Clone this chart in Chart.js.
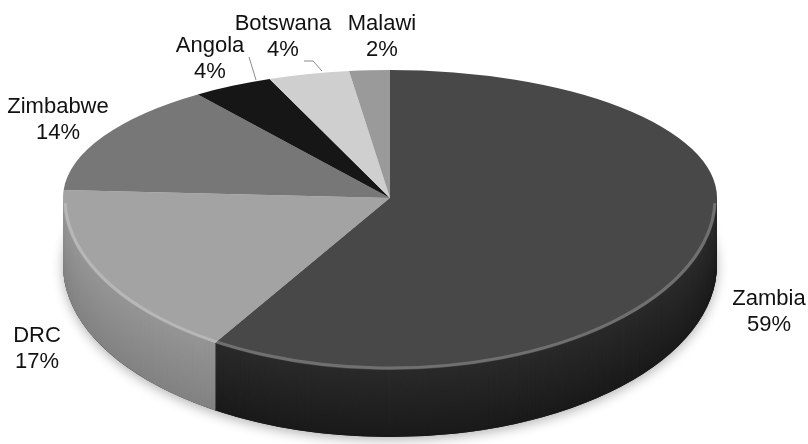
<!DOCTYPE html>
<html>
<head>
<meta charset="utf-8">
<script src="https://cdn.jsdelivr.net/npm/chart.js@4.4.1/dist/chart.umd.min.js"></script>
<style>
  html, body { margin: 0; padding: 0; background: #fff; }
  #wrap { position: relative; width: 808px; height: 444px; }
</style>
</head>
<body>
<div id="wrap"><canvas id="pie"></canvas></div>
<script>
// data
const countries = ['Zambia', 'DRC', 'Zimbabwe', 'Angola', 'Botswana', 'Malawi'];
const shares = [59, 17, 14, 4, 4, 2];

// styles
const topColors = ['#484848', '#a3a3a3', '#777777', '#161616', '#cfcfcf', '#9a9a9a'];
const wallTop = ['#2a2a2a', '#959595', '#666666', '#101010', '#b8b8b8', '#8a8a8a'];
const wallBottom = ['#1a1a1a', '#828282', '#555555', '#0a0a0a', '#a8a8a8', '#7a7a7a'];

// label placement (centre x, first baseline)
const labelPos = [
    { x: 769, y: 305 },
    { x: 37, y: 342 },
    { x: 58, y: 113 },
    { x: 210, y: 52 },
    { x: 283, y: 30 },
    { x: 382, y: 30 }
];

const R = 327;        // horizontal radius
const RY_TOP = 128;   // back half, squashed
const RY_BOT = 172;   // front half
const DEPTH = 67;     // wall thickness

function mix(a, b, t) {
    const pa = [1, 3, 5].map(k => parseInt(a.substr(k, 2), 16));
    const pb = [1, 3, 5].map(k => parseInt(b.substr(k, 2), 16));
    const c = pa.map((v, k) => Math.round(v + (pb[k] - v) * t));
    return `rgb(${c[0]},${c[1]},${c[2]})`;
}

const pie3d = {
    id: 'pie3d',
    beforeDatasetsDraw(chart) {
        const ctx = chart.ctx;
        const meta = chart.getDatasetMeta(0);
        const cx = meta.data[0].x, cy = Math.round(meta.data[0].y);

        // side walls (front half only)
        ctx.save();
        ctx.beginPath();
        ctx.rect(0, cy, chart.width, chart.height - cy);
        ctx.clip();

        // soft shadow under the disc
        ctx.save();
        ctx.shadowColor = 'rgba(0,0,0,0.3)';
        ctx.shadowBlur = 12;
        ctx.shadowOffsetY = 3;
        ctx.fillStyle = '#1a1a1a';
        ctx.beginPath();
        ctx.ellipse(cx, cy + DEPTH, R, RY_BOT, 0, 0, Math.PI * 2);
        ctx.fill();
        ctx.restore();

        for (let d = DEPTH; d >= 0; d--) {
            meta.data.forEach((arc, i) => {
                const p = arc.getProps(['startAngle', 'endAngle', 'outerRadius']);
                ctx.save();
                ctx.translate(cx, cy + d);
                ctx.scale(1, RY_BOT / p.outerRadius);
                ctx.beginPath();
                ctx.moveTo(0, 0);
                ctx.arc(0, 0, p.outerRadius, p.startAngle, p.endAngle);
                ctx.closePath();
                ctx.fillStyle = mix(wallTop[i], wallBottom[i], d / DEPTH);
                ctx.fill();
                ctx.restore();
            });
        }
        ctx.restore();

        // top face: back half and front half with different squash
        [[0, cy, RY_TOP], [cy, chart.height, RY_BOT]].forEach(([y0, y1, ry]) => {
            ctx.save();
            ctx.beginPath();
            ctx.rect(0, y0, chart.width, y1 - y0);
            ctx.clip();
            ctx.translate(cx, cy);
            ctx.scale(1, ry / R);
            ctx.translate(-cx, -cy);
            meta.controller.draw();
            ctx.restore();
        });

        // bevel highlight on the front rim
        ctx.save();
        ctx.beginPath();
        ctx.ellipse(cx, cy, R - 2, RY_BOT - 2, 0, 0.03, Math.PI - 0.03);
        ctx.strokeStyle = 'rgba(255,255,255,0.22)';
        ctx.lineWidth = 3;
        ctx.stroke();
        ctx.restore();

        return false;
    },
    afterDraw(chart) {
        const ctx = chart.ctx;
        ctx.save();
        // leader lines
        ctx.strokeStyle = '#8a8a8a';
        ctx.lineWidth = 1;
        ctx.beginPath();
        ctx.moveTo(249, 57);
        ctx.lineTo(256, 80);
        ctx.moveTo(304, 61);
        ctx.lineTo(313, 61);
        ctx.lineTo(322, 71);
        ctx.stroke();

        ctx.fillStyle = '#111';
        ctx.font = '22px "Liberation Sans", Arial, sans-serif';
        ctx.textAlign = 'center';
        ctx.textBaseline = 'alphabetic';
        countries.forEach((name, i) => {
            const pos = labelPos[i];
            ctx.fillText(name, pos.x, pos.y);
            ctx.fillText(shares[i] + '%', pos.x, pos.y + 26);
        });
        ctx.restore();
    }
};

new Chart(document.getElementById('pie'), {
    type: 'pie',
    data: {
        labels: countries,
        datasets: [{
            data: shares,
            backgroundColor: topColors,
            borderWidth: 0
        }]
    },
    options: {
        responsive: true,
        maintainAspectRatio: false,
        animation: false,
        events: [],
        radius: R,
        layout: { padding: { left: 0, right: 28, top: 0, bottom: 48 } },
        plugins: {
            legend: { display: false },
            tooltip: { enabled: false }
        }
    },
    plugins: [pie3d]
});
</script>
</body>
</html>
